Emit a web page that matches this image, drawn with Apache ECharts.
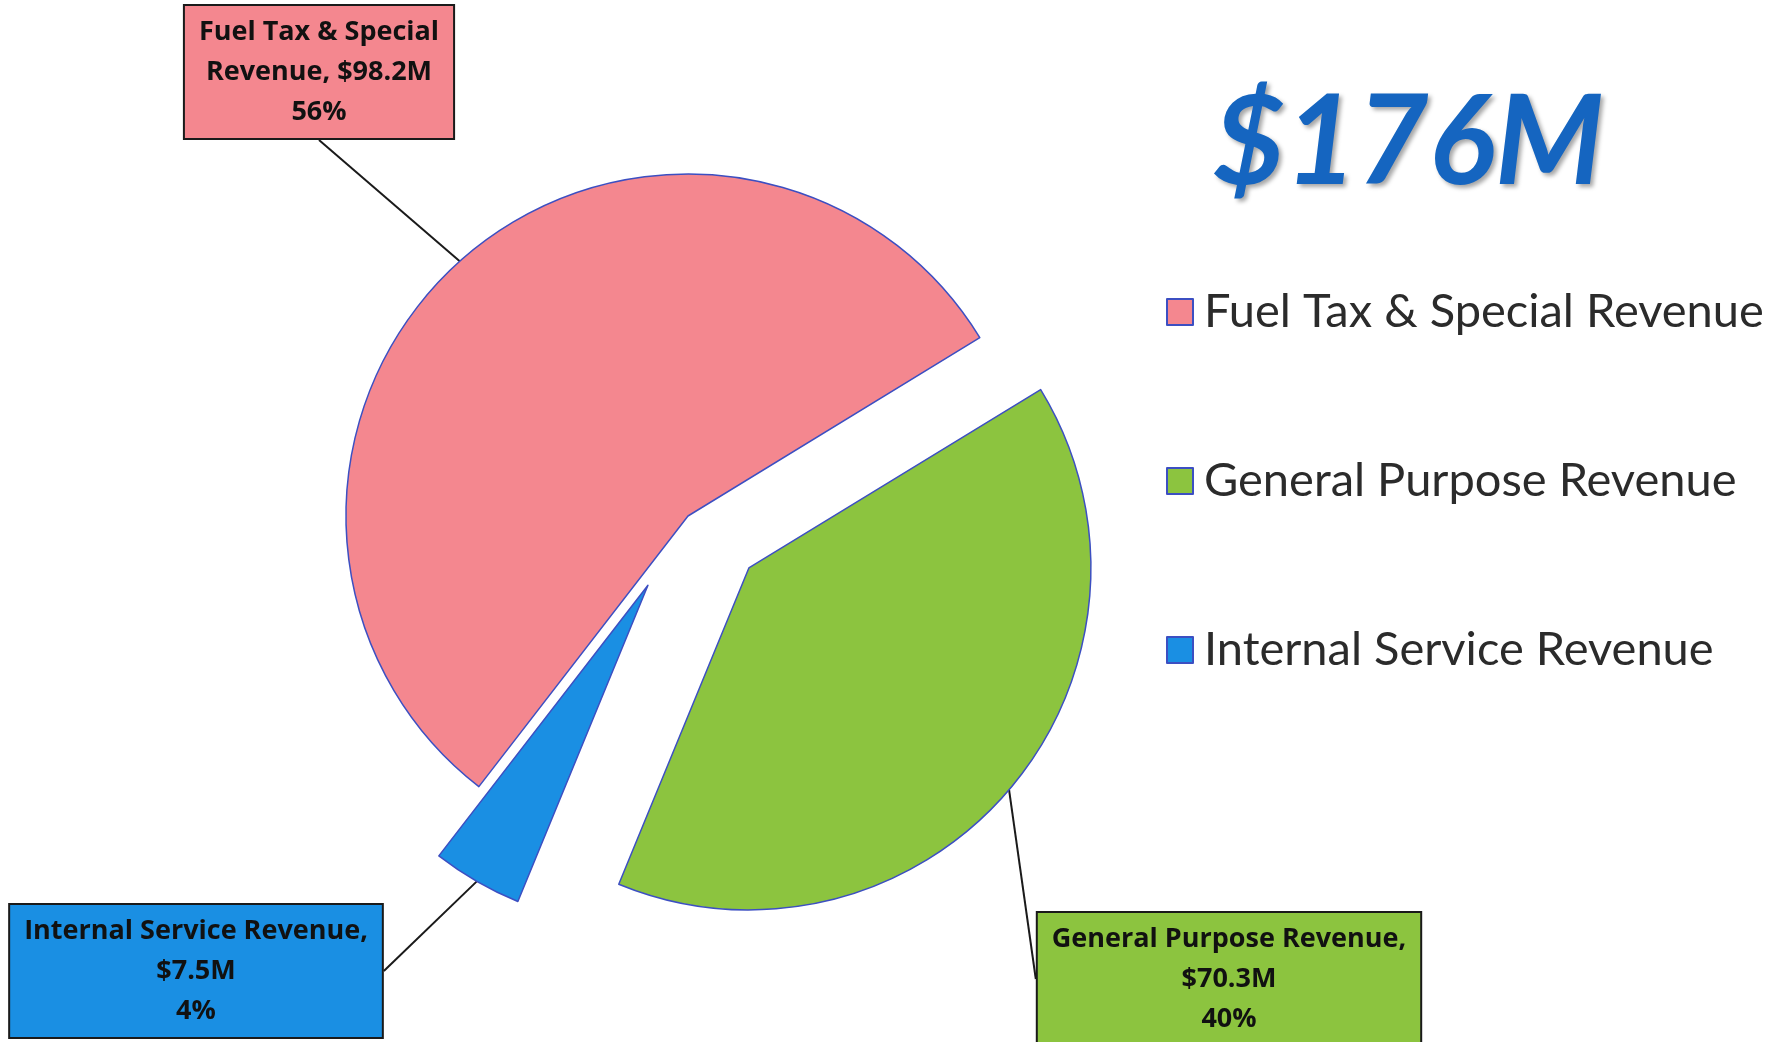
<!DOCTYPE html>
<html>
<head>
<meta charset="utf-8">
<script src="https://cdn.jsdelivr.net/npm/echarts@6/dist/echarts.min.js"></script>
<style>
  html, body { margin: 0; padding: 0; background: #fff; }
  #chart { width: 1786px; height: 1042px; }
</style>
</head>
<body>
<div id="chart"></div>
<script>
// data
const categories = ['Fuel Tax & Special Revenue', 'General Purpose Revenue', 'Internal Service Revenue'];
const values = [98.2, 70.3, 7.5];
const totalText = '$176M';
// how each callout breaks the name
const calloutNames = ['Fuel Tax & Special\nRevenue, ', 'General Purpose Revenue,\n', 'Internal Service Revenue,\n'];
const exploded = [false, true, true];

const colors = ['#f4878f', '#8cc43f', '#1a8fe3'];
const calloutCenters = [[319, 72], [1229, 979], [196, 971]];
const CX = 688, CY = 516, R = 342, OFFSET = 80;

const chart = echarts.init(document.getElementById('chart'));

const calloutLabel = {
  show: true,
  position: 'outside',
  fontFamily: 'Open Sans',
  fontSize: 27,
  fontWeight: 'bold',
  lineHeight: 40,
  color: '#111',
  align: 'center',
  borderColor: '#1a1a1a',
  borderWidth: 2,
  padding: [6, 14],
  formatter(p) {
    return calloutNames[p.dataIndex] + '$' + p.value + 'M\n' + Math.round(p.percent) + '%';
  },
};
const calloutLine = {
  show: true,
  length: 20,
  length2: 0,
  smooth: false,
  lineStyle: { color: '#1a1a1a', width: 2 },
};
function placeCallout(params) {
  const c = calloutCenters[params.dataIndex];
  return { x: c[0], y: c[1], align: 'center', verticalAlign: 'middle' };
}

// the visible pie; only the non-exploded slice keeps its own callout
const mainSeries = {
  type: 'pie',
  center: [CX, CY],
  radius: R,
  startAngle: 232.3,
  clockwise: true,
  selectedMode: 'multiple',
  selectedOffset: OFFSET,
  avoidLabelOverlap: false,
  emphasis: { disabled: true },
  itemStyle: { borderColor: '#3c4fc2', borderWidth: 1.5 },
  label: calloutLabel,
  labelLine: calloutLine,
  labelLayout: placeCallout,
  data: categories.map((name, i) => ({
    name,
    value: values[i],
    selected: exploded[i],
    label: exploded[i] ? { show: false } : { backgroundColor: colors[i] },
    labelLine: { show: !exploded[i] },
  })),
};

// invisible twin, as large as the exploded slices reach, carrying their callouts
const calloutSeries = {
  type: 'pie',
  center: [CX, CY],
  radius: R + OFFSET,
  startAngle: 232.3,
  clockwise: true,
  silent: true,
  avoidLabelOverlap: false,
  emphasis: { disabled: true },
  itemStyle: { color: 'rgba(0,0,0,0)', borderWidth: 0 },
  label: calloutLabel,
  labelLine: calloutLine,
  labelLayout: placeCallout,
  data: categories.map((name, i) => ({
    name,
    value: values[i],
    label: exploded[i] ? { backgroundColor: colors[i] } : { show: false },
    labelLine: { show: exploded[i] },
  })),
};

chart.setOption({
  animation: false,
  color: colors,
  title: {
    text: totalText,
    left: 1208,
    top: 77,
    textStyle: {
      fontFamily: 'Lato',
      fontSize: 124,
      fontWeight: 'bold',
      fontStyle: 'italic',
      color: '#1565c0',
      textShadowColor: 'rgba(0,0,0,0.35)',
      textShadowBlur: 4,
      textShadowOffsetX: 3,
      textShadowOffsetY: 3,
    },
  },
  legend: {
    orient: 'vertical',
    left: 1161,
    top: 280,
    itemWidth: 26,
    itemHeight: 26,
    itemGap: 115,
    icon: 'rect',
    selectedMode: false,
    textStyle: {
      fontFamily: 'Lato',
      fontSize: 47,
      lineHeight: 54,
      color: '#2b2b2b',
      padding: [0, 0, 0, 6],
    },
    data: categories,
  },
  series: [mainSeries, calloutSeries],
});
</script>
</body>
</html>
